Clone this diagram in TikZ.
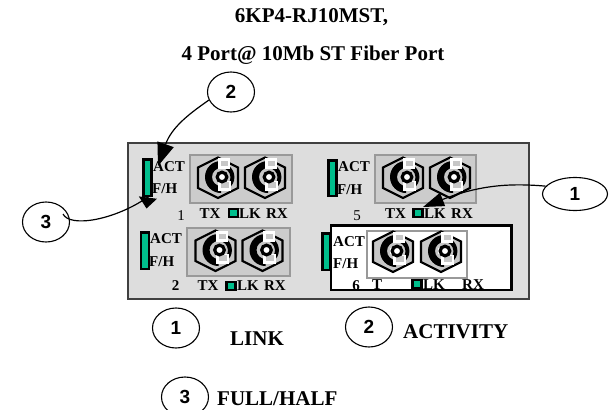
\documentclass[tikz,border=0pt]{standalone}
\usepackage{fontspec}
\setmainfont{Liberation Serif}
\setsansfont{Liberation Sans}
\usetikzlibrary{arrows.meta,shapes.geometric}
\definecolor{panel}{gray}{0.865}
\definecolor{portbg}{gray}{0.80}
\definecolor{portedge}{gray}{0.60}
\definecolor{led}{RGB}{0,190,140}
\definecolor{inner}{gray}{0.78}
\tikzset{
  lbl/.style={font=\bfseries\fontsize{15}{17}\selectfont,inner sep=0pt,anchor=base},
  lblw/.style={font=\fontsize{15}{17}\selectfont,inner sep=0pt,anchor=base},
  title/.style={font=\bfseries\fontsize{21}{23}\selectfont,inner sep=0pt,anchor=base},
  legend/.style={font=\bfseries\fontsize{21}{23}\selectfont,inner sep=0pt,anchor=base west},
  bubble/.style={draw=black,line width=1.1pt,fill=white,ellipse,minimum width=47pt,minimum height=40pt,inner sep=0pt,font=\sffamily\bfseries\fontsize{19}{21}\selectfont},
  leader/.style={line width=1.2pt},
}
% ST connector: ring centre at #1,#2 ; #3 background colour
\newcommand{\stconn}[3]{%
  \begin{scope}[shift={(#1,#2)}]
    \draw[line width=2.2pt,fill=inner,line join=miter] (-4,-19.5)--(16,-9.5)--(16,11)--(-4,21)--(-24,11)--(-24,-9.5)--cycle;
    \fill[black] (-1,-16) arc[start angle=-90,end angle=-270,radius=16] -- (-1,9) arc[start angle=-270,end angle=-90,radius=9] -- cycle;
    \fill[black] (4,-13) arc[start angle=-65,end angle=65,radius=14.5] -- (3,9) arc[start angle=65,end angle=-65,radius=9.5] -- cycle;
    \fill[#3] (-7,-3) -- (0,0) -- (-7,3) -- cycle;
    \fill[white] (-4,-19.5) rectangle (8,-8);
    \fill[white] (-4,4) rectangle (9,14);
    \fill[inner] (-1,-16) rectangle (6,-11);
    \fill[inner] (-1,5) rectangle (7,11);
    \draw[line width=3.2pt,fill=white] (0,0) circle[radius=4.8];
  \end{scope}}
\newcommand{\ledbar}[3]{\draw[line width=2.5pt,fill=led] (#1+1.25,#2+1.25) rectangle (#1+9.25,#3-1.25);}
\newcommand{\ledbox}[2]{\draw[line width=2.5pt,fill=led] (#1-4.5,#2-4) rectangle (#1+4.5,#2+4);}
\begin{document}
\begin{tikzpicture}[x=1pt,y=-1pt]
\useasboundingbox (0,0) rectangle (611,410);
\clip (0,0) rectangle (611,410);
% title
\node[title] (t1) at (311.5,22) {6KP4-RJ10MST,};
\node[title] (t2) at (313,60) {4 Port@ 10Mb ST Fiber Port};
% panel
\node[draw=black!75,line width=2.4pt,fill=panel,minimum width=401pt,minimum height=156pt,inner sep=0pt,rectangle,anchor=north west] (panel) at (127,142) {};
% port 1
\ledbar{142}{158}{197}
\draw[portedge,line width=2pt,fill=portbg] (190,155) rectangle (292,203);
\stconn{222}{177}{portbg}\stconn{269}{177}{portbg}
\node[lbl,anchor=base west] (act1) at (153,171) {ACT};
\node[lbl,anchor=base west] (fh1) at (152,193) {F/H};
\node[lblw] (n1) at (181,220) {1};
\node[lbl] (tx1) at (210,218) {TX};
\ledbox{233.5}{213}
\node[lbl] (lk1) at (250,218) {LK};
\node[lbl] (rx1) at (277,218) {RX};
% port 2
\ledbar{139.5}{231}{270}
\draw[portedge,line width=2pt,fill=portbg] (187,228) rectangle (289.5,276);
\stconn{219.5}{250}{portbg}\stconn{266.5}{250}{portbg}
\node[lbl,anchor=base west] (act2) at (150,243) {ACT};
\node[lbl,anchor=base west] (fh2) at (149,266) {F/H};
\node[lbl] (n2) at (175.5,290) {2};
\node[lbl] (tx2) at (208,290) {TX};
\ledbox{231}{286}
\node[lbl] (lk2) at (248,290) {LK};
\node[lbl] (rx2) at (275,290) {RX};
% port 5
\ledbar{327}{159}{197}
\draw[portedge,line width=2pt,fill=portbg] (375,155) rectangle (476,203);
\stconn{407}{177}{portbg}\stconn{454}{177}{portbg}
\node[lbl,anchor=base west] (act5) at (338,171) {ACT};
\node[lbl,anchor=base west] (fh5) at (337,194) {F/H};
\node[lblw] (n5) at (357,220) {5};
\node[lbl] (tx5) at (395.5,218) {TX};
\ledbox{418}{213}
\node[lbl] (lk5) at (435,218) {LK};
\node[lbl] (rx5) at (462,218) {RX};
% port 6
\ledbar{321}{232}{271}
\node[draw=none,fill=white,minimum width=180pt,minimum height=64pt,inner sep=0pt,rectangle,anchor=north west] (box6) at (331,225.5) {};
\node[lbl] (n6) at (356,290) {6};
\node[lbl] (t6) at (377,289) {T};
\ledbox{417}{284}
\node[lbl] (lk6) at (434,289) {LK};
\node[lbl] (rx6) at (473,289) {RX};
\draw[line width=2.2pt] (box6.north west) rectangle (box6.south east);
\draw[portedge,line width=2pt,fill=white] (366.5,230.5) rectangle (466.5,277.5);
\stconn{397}{251}{white}\stconn{445}{251}{white}
\node[lbl,anchor=base west] (act6) at (333,246) {ACT};
\node[lbl,anchor=base west] (fh6) at (333,268) {F/H};
% bubbles
\node[bubble] (b2) at (231,92) {2};
\node[bubble] (b3) at (46,222) {3};
\node[bubble,minimum width=65pt,minimum height=33pt] (b1) at (575,194) {1};
% leaders
\coordinate (s3) at (63,214);
\coordinate (m3) at (148,197);
\coordinate (e2) at (158,166);
\coordinate (e3) at (146.5,208.5);
\coordinate (e1) at (423,207);
\draw[leader,-{Triangle[length=23pt,width=17pt]}] (b2.200) .. controls (192,112) and (172,126) .. (e2);
\draw[leader,-{Triangle[length=11pt,width=18pt]}] (s3) .. controls (70,228) and (115,220) .. (m3) -- (e3);
\draw[leader,-{Triangle[length=21pt,width=14pt]}] (b1.165) .. controls (510,183) and (480,185) .. (e1);
% legend
\node[bubble] (l1) at (176,328) {1};
\node[legend] (lt1) at (230,345) {LINK};
\node[bubble] (l2) at (369,327) {2};
\node[legend] (lt2) at (403,338) {ACTIVITY};
\node[bubble] (l3) at (185,397) {3};
\node[legend] (lt3) at (217,405) {FULL/HALF};
\end{tikzpicture}
\end{document}
